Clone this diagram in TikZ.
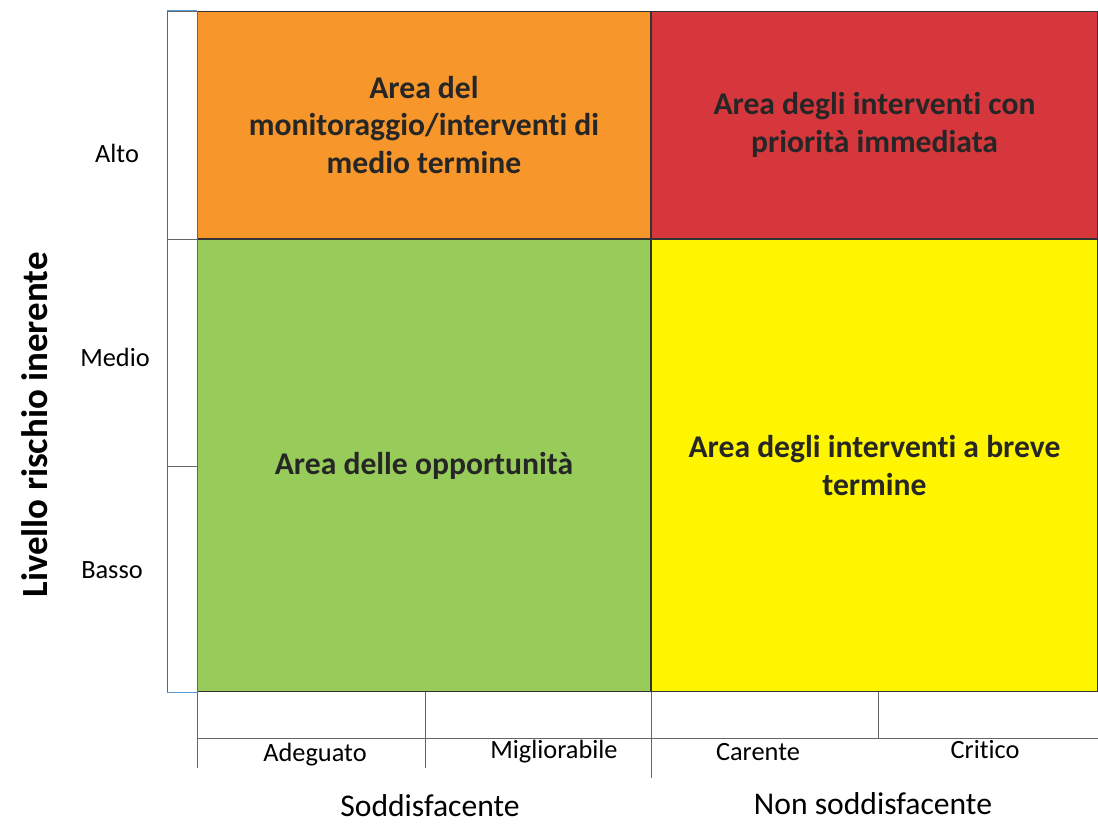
\documentclass[tikz,border=0pt]{standalone}
\usepackage{fontspec}
\setmainfont[Ligatures=NoCommon]{Carlito}
\usepackage{xcolor}
\usepackage{tikz}

\definecolor{arancio}{HTML}{F7962A}
\definecolor{rosso}{HTML}{D6373D}
\definecolor{verde}{HTML}{97CC5A}
\definecolor{giallo}{HTML}{FFF500}
\definecolor{bordo}{HTML}{5B9BD5}

\begin{document}
\begin{tikzpicture}[x=0.02cm,y=-0.02cm,
  area/.style={draw=black!80,line width=0.6pt,inner sep=0pt,align=center,
    font=\fontsize{18}{21.6}\selectfont\bfseries,text=black!85},
  cella/.style={draw=black!60,line width=0.5pt,inner sep=0pt,minimum width=0.6cm},
  voce/.style={font=\fontsize{15}{18}\selectfont},
  asse/.style={font=\fontsize{18}{21.6}\selectfont},
  linea/.style={draw=black!60,line width=0.5pt}]
\useasboundingbox (0,0) rectangle (1098,826);

% quadranti
\node[area,fill=arancio,minimum width=9.08cm,minimum height=4.56cm] (M) at (424,125)
  {Area del\\monitoraggio/interventi di\\medio termine};
\node[area,fill=rosso,minimum width=8.94cm,minimum height=4.56cm]   (P) at (874.5,125)
  {Area degli interventi con\\priorità immediata};
\node[area,fill=verde,minimum width=9.08cm,minimum height=9.06cm]   (O) at (424,465.5)
  {Area delle opportunità};
\node[area,fill=giallo,minimum width=8.94cm,minimum height=9.06cm]  (B) at (874.5,465.5)
  {Area degli interventi a breve\\termine};

% colonna livelli
\node[cella,minimum height=4.56cm] (cA) at (182,125)   {};
\node[cella,minimum height=4.54cm] (cM) at (182,352.5) {};
\node[cella,minimum height=4.52cm] (cB) at (182,579)   {};
\draw[bordo,line width=0.6pt] (cA.north west) -- (cA.north east);
\draw[bordo,line width=0.6pt] (cB.south west) -- (cB.south east);

\node[voce] (lA) at (117,153) {Alto};
\node[voce] (lM) at (115,357) {Medio};
\node[voce] (lB) at (112,570) {Basso};
\node[font=\fontsize{21}{25}\selectfont\bfseries,rotate=90] (Y) at (35,425) {Livello rischio inerente};

% tabella sotto
\draw[linea] (197,692) -- (197,768);
\draw[linea] (425,692) -- (425,768);
\draw[linea] (651,692) -- (651,778);
\draw[linea] (878,692) -- (878,738);
\draw[linea] (197,738) -- (1098,738);

\node[voce] (ad) at (315,755) {Adeguato};
\node[voce] (mi) at (554,752) {Migliorabile};
\node[voce] (ca) at (758,752) {Carente};
\node[voce] (cr) at (985,750) {Critico};
\node[asse] (S) at (430,806) {Soddisfacente};
\node[asse] (N) at (873,804) {Non soddisfacente};
\end{tikzpicture}
\end{document}
